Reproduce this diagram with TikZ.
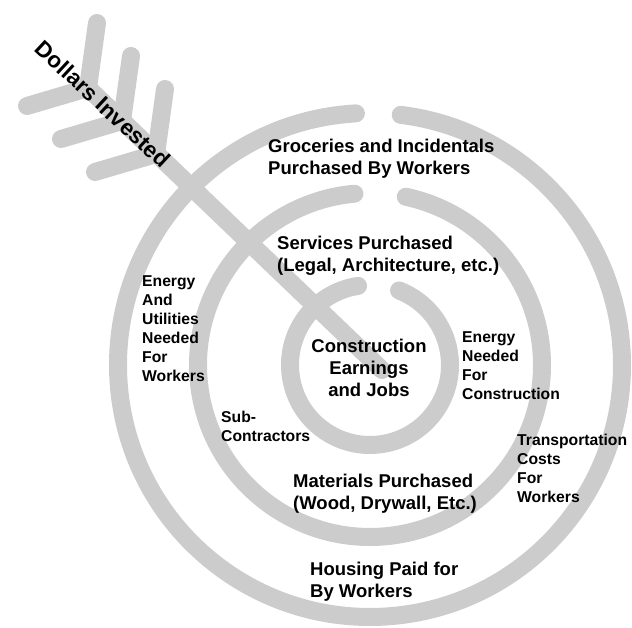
\documentclass[tikz,border=0pt]{standalone}
\usepackage{fontspec}
\setmainfont{Liberation Sans}
\usepackage{tikz}
\tikzset{
  ring/.style={draw=black!20,line width=18pt,line cap=round},
  quill/.style={draw=black!20,line width=18pt,line cap=round,line join=round},
  big label/.style={font=\bfseries\fontsize{18.5}{22}\selectfont,align=left,inner sep=0pt},
  small label/.style={font=\bfseries\fontsize{15.7}{19}\selectfont,align=left,inner sep=0pt}
}

\begin{document}
\begin{tikzpicture}[x=1pt,y=1pt]
  \useasboundingbox (0,0) rectangle (632,628);
  \coordinate (centre) at (370,263);
  % three rings, each one open near the top
  \draw[ring] (centre) ++(93.2:252) arc[start angle=93.2,end angle=443,radius=252];
  \draw[ring] (centre) ++(95.2:172) arc[start angle=95.2,end angle=438,radius=172];
  \draw[ring] (centre) ++(98.6:80) arc[start angle=98.6,end angle=428.7,radius=80];
  % the arrow
  \coordinate (tail) at (88,540);
  \coordinate (tip) at (382,258);
  \draw[quill] (tail) -- (tip);
  \foreach \i in {0,1,2}
    \draw[quill] ([shift={(34*\i,-33*\i)}]tail) +(9,65) -- +(0,0) -- +(-61,-18);
  \node[font=\bfseries\fontsize{22.5}{27}\selectfont,rotate=-43,inner sep=0pt] (invested) at (103,524) {Dollars Invested};

  % labels sit on the baseline of their last line
  \node[big label,anchor=base west] (groceries) at (268,453) {Groceries and Incidentals\\Purchased By Workers};
  \node[big label,anchor=base west] (services) at (277,356) {Services Purchased\\(Legal, Architecture, etc.)};
  \node[big label,anchor=base,align=center] (jobs) at (369,231) {Construction\\Earnings\\and Jobs};
  \node[big label,anchor=base west] (materials) at (293,118) {Materials Purchased\\(Wood, Drywall, Etc.)};
  \node[big label,anchor=base west] (housing) at (310,30) {Housing Paid for\\By Workers};
  \node[small label,anchor=base west] (utilities) at (142,246) {Energy\\And\\Utilities\\Needed\\For\\Workers};
  \node[small label,anchor=base west] (subs) at (221,186) {Sub-\\Contractors};
  \node[small label,anchor=base west] (energy) at (462,228) {Energy\\Needed\\For\\Construction};
  \node[small label,anchor=base west] (transport) at (517,125) {Transportation\\Costs\\For\\Workers};
\end{tikzpicture}
\end{document}
